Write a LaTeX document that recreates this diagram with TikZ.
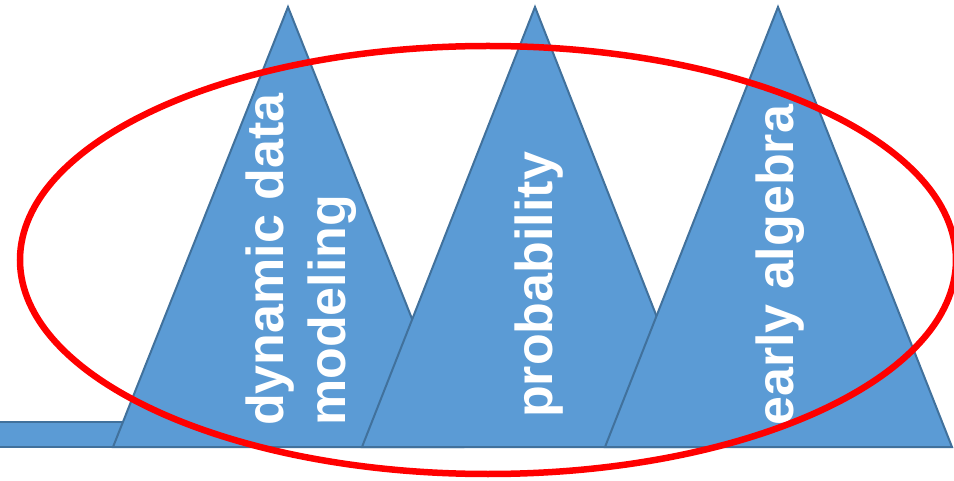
\documentclass[tikz,border=0pt]{standalone}
\usepackage{fontspec}
\setmainfont{Liberation Sans}
\definecolor{triFill}{HTML}{5B9BD5}
\definecolor{triLine}{HTML}{41719C}
\begin{document}
\begin{tikzpicture}[x=1pt,y=-1pt,
  peak/.style={fill=triFill,draw=triLine,line width=2pt,line join=miter},
  lbl/.style={rotate=90,anchor=base west,inner sep=0pt,text=white,
    font=\bfseries\fontsize{52}{62}\selectfont}]
\useasboundingbox (0,0) rectangle (954,481);
% bar
\draw[peak] (-5,422) rectangle (150,447);
% triangles
\coordinate (a1) at (288,7);
\coordinate (l1) at (113,447);
\coordinate (r1) at (463,447);
\coordinate (a2) at (535,7);
\coordinate (l2) at (362,447);
\coordinate (r2) at (708,447);
\coordinate (a3) at (778,7);
\coordinate (l3) at (605,447);
\coordinate (r3) at (952,447);
\draw[peak] (l1) -- (a1) -- (r1) -- cycle;
\draw[peak] (l2) -- (a2) -- (r2) -- cycle;
\draw[peak] (l3) -- (a3) -- (r3) -- cycle;
% labels
\node[lbl] (t1a) at (283,426) {dynamic data};
\node[lbl] (t1b) at (345,426) {modeling};
\node[lbl] (t2) at (552,418) {probability};
\node[lbl] (t3) at (793,426) {early algebra};
% ellipse
\coordinate (ring) at (488,260);
\draw[red,line width=6.5pt] (ring) ellipse [x radius=468pt, y radius=214pt];
\end{tikzpicture}
\end{document}
